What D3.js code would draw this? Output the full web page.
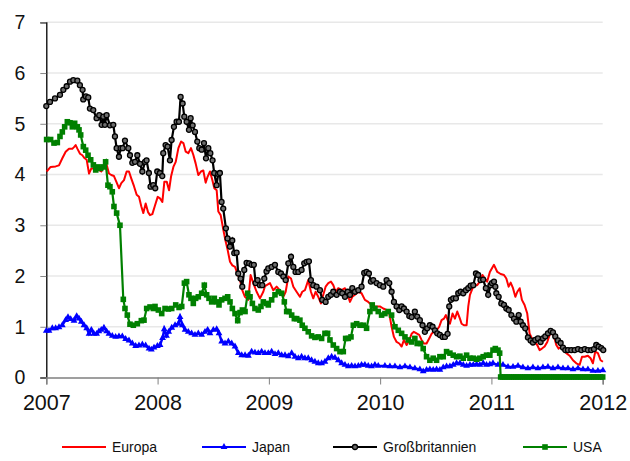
<!DOCTYPE html>
<html><head><meta charset="utf-8">
<script src="https://cdn.jsdelivr.net/npm/d3@7"></script>
<style>body{margin:0;background:#fff}svg{display:block;font-family:"Liberation Sans",Arial,sans-serif}</style>
</head><body><svg id="c" width="630" height="461"></svg>
<script>
// ---- data (t = years since start of 2007) ----
const yearLabels = ["2007","2008","2009","2010","2011","2012"];
const yTicks = [0,1,2,3,4,5,6,7];
const seriesNames = ["Europa","Japan","Großbritannien","USA"];

const euT = [0.003,0.039,0.084,0.114,0.144,0.174,0.204,0.234,0.249,0.264,0.279,0.303,0.324,0.345,0.363,0.384,0.405,0.428,0.452,0.473,0.494,0.518,0.539,0.563,0.584,0.608,0.629,0.653,0.674,0.698,0.722,0.743,0.764,0.788,0.812,0.833,0.854,0.872,0.893,0.914,0.932,0.953,0.974,1.001,1.022,1.043,1.061,1.082,1.103,1.121,1.142,1.163,1.187,1.211,1.232,1.253,1.276,1.300,1.321,1.342,1.366,1.390,1.411,1.432,1.450,1.471,1.492,1.510,1.531,1.546,1.567,1.591,1.612,1.630,1.651,1.672,1.696,1.717,1.741,1.761,1.785,1.815,1.836,1.860,1.890,1.920,1.950,1.965,2.010,2.040,2.070,2.109,2.130,2.151,2.175,2.199,2.220,2.249,2.279,2.300,2.324,2.354,2.378,2.399,2.420,2.444,2.468,2.489,2.510,2.534,2.558,2.579,2.600,2.624,2.654,2.684,2.708,2.729,2.750,2.774,2.804,2.833,2.863,2.893,2.923,2.953,2.998,3.028,3.058,3.082,3.103,3.124,3.148,3.172,3.193,3.214,3.238,3.262,3.283,3.303,3.327,3.351,3.372,3.393,3.417,3.441,3.462,3.483,3.507,3.531,3.552,3.573,3.591,3.612,3.627,3.651,3.672,3.693,3.717,3.732,3.753,3.777,3.792,3.807,3.831,3.852,3.872,3.896,3.920,3.941,3.962,3.986,4.023,4.053,4.083,4.113,4.134,4.155,4.173,4.194,4.215,4.233,4.254,4.274,4.298,4.322,4.343,4.364,4.388,4.412,4.433,4.454,4.478,4.502,4.523,4.544,4.568,4.583,4.604,4.628,4.652,4.673,4.703,4.733,4.763,4.793,4.814,4.838,4.867,4.891,4.912,4.933,4.957,4.981,5.002];
const euV = [4.06,4.15,4.16,4.18,4.32,4.45,4.51,4.51,4.54,4.58,4.51,4.41,4.38,4.32,4.29,4.02,4.12,4.12,4.10,4.09,4.06,4.15,4.22,4.02,3.99,3.97,3.86,3.73,3.83,3.89,4.06,4.06,3.92,3.77,3.60,3.56,3.37,3.24,3.43,3.26,3.20,3.22,3.37,3.56,3.53,3.46,3.86,3.86,3.69,3.96,4.15,4.25,4.52,4.65,4.62,4.45,4.42,4.52,4.39,4.22,3.99,4.06,4.08,3.84,3.96,4.06,3.89,3.73,3.69,3.27,3.20,2.91,2.68,2.51,2.28,2.21,2.18,2.05,1.92,1.72,1.59,1.53,2.02,1.86,1.69,1.56,1.69,1.80,1.86,1.72,1.79,1.69,1.59,1.69,1.99,1.95,1.79,1.69,1.59,1.69,1.72,1.92,1.69,1.56,1.69,1.59,1.46,1.63,1.79,1.86,1.89,1.82,1.69,1.76,1.72,1.76,1.63,1.49,1.59,1.63,1.69,1.66,1.53,1.49,1.43,1.40,1.40,1.36,1.33,1.26,1.00,0.80,0.70,0.67,0.61,0.74,0.64,0.74,0.86,0.90,0.87,0.84,0.74,0.67,0.67,0.77,0.86,0.90,0.93,1.00,1.13,1.16,1.23,1.10,1.06,1.26,1.16,1.30,1.16,1.06,1.03,1.03,1.40,1.63,1.76,1.82,1.82,1.89,2.02,1.95,1.89,2.08,2.22,2.08,2.04,2.02,1.95,1.79,1.87,1.76,1.59,1.69,1.76,1.53,1.43,1.26,0.87,0.77,0.70,0.64,0.54,0.57,0.61,0.70,0.84,0.90,0.77,0.64,0.57,0.61,0.54,0.48,0.43,0.34,0.28,0.25,0.41,0.41,0.43,0.38,0.28,0.51,0.48,0.34,0.31];

const jpT = [0.000,0.024,0.054,0.084,0.114,0.144,0.174,0.195,0.219,0.249,0.273,0.294,0.315,0.339,0.363,0.384,0.405,0.428,0.452,0.473,0.494,0.518,0.542,0.563,0.593,0.623,0.653,0.683,0.713,0.743,0.773,0.803,0.833,0.863,0.893,0.923,0.944,0.968,0.998,1.022,1.045,1.060,1.080,1.100,1.127,1.157,1.187,1.202,1.223,1.247,1.276,1.306,1.336,1.366,1.396,1.426,1.450,1.471,1.501,1.531,1.552,1.576,1.606,1.636,1.666,1.696,1.726,1.756,1.786,1.816,1.845,1.875,1.905,1.935,1.965,1.995,2.025,2.055,2.085,2.115,2.145,2.175,2.205,2.235,2.265,2.294,2.324,2.354,2.384,2.414,2.444,2.474,2.504,2.534,2.564,2.594,2.624,2.654,2.684,2.714,2.744,2.774,2.804,2.833,2.863,2.893,2.923,2.953,2.983,3.043,3.088,3.133,3.178,3.223,3.268,3.312,3.357,3.387,3.417,3.447,3.477,3.507,3.537,3.567,3.597,3.627,3.657,3.687,3.717,3.747,3.777,3.807,3.837,3.867,3.896,3.926,3.956,3.986,4.014,4.059,4.104,4.149,4.194,4.239,4.283,4.328,4.373,4.418,4.463,4.508,4.553,4.598,4.643,4.688,4.733,4.778,4.823,4.867,4.912,4.957,5.002];
const jpV = [0.92,0.92,0.97,0.97,0.99,1.03,1.13,1.19,1.15,1.12,1.21,1.16,1.10,1.03,0.97,0.86,0.94,0.86,0.86,0.91,0.94,0.98,0.91,0.86,0.82,0.80,0.81,0.81,0.76,0.73,0.67,0.62,0.63,0.65,0.63,0.57,0.55,0.59,0.62,0.64,0.78,0.95,0.82,0.90,0.98,1.03,1.06,1.19,1.03,0.94,0.90,0.87,0.84,0.87,0.84,0.90,0.94,0.87,0.94,0.95,0.87,0.71,0.67,0.71,0.67,0.61,0.48,0.44,0.44,0.43,0.51,0.49,0.48,0.51,0.48,0.48,0.51,0.46,0.48,0.44,0.44,0.42,0.48,0.41,0.38,0.41,0.38,0.38,0.34,0.31,0.28,0.28,0.31,0.38,0.41,0.39,0.34,0.28,0.25,0.22,0.23,0.22,0.23,0.25,0.25,0.23,0.22,0.25,0.23,0.23,0.22,0.22,0.20,0.22,0.20,0.18,0.16,0.12,0.15,0.16,0.15,0.16,0.15,0.20,0.22,0.22,0.25,0.28,0.28,0.25,0.23,0.25,0.25,0.26,0.25,0.28,0.25,0.26,0.28,0.25,0.25,0.21,0.21,0.23,0.20,0.18,0.20,0.18,0.20,0.21,0.18,0.20,0.18,0.18,0.16,0.18,0.16,0.16,0.13,0.13,0.14];

const gbT = [0.000,0.033,0.078,0.123,0.153,0.183,0.213,0.243,0.279,0.302,0.326,0.332,0.356,0.377,0.392,0.422,0.452,0.476,0.497,0.512,0.527,0.542,0.572,0.602,0.617,0.632,0.653,0.668,0.686,0.707,0.737,0.752,0.773,0.797,0.818,0.842,0.863,0.887,0.901,0.922,0.937,0.961,0.979,0.997,1.021,1.042,1.051,1.072,1.090,1.111,1.126,1.147,1.171,1.192,1.207,1.225,1.240,1.261,1.282,1.297,1.315,1.336,1.357,1.375,1.396,1.417,1.435,1.456,1.474,1.494,1.509,1.530,1.545,1.560,1.575,1.590,1.614,1.629,1.650,1.671,1.689,1.710,1.725,1.746,1.761,1.779,1.800,1.823,1.845,1.865,1.881,1.899,1.920,1.941,1.959,1.979,1.995,2.025,2.055,2.085,2.109,2.130,2.151,2.175,2.199,2.220,2.240,2.265,2.294,2.318,2.339,2.360,2.378,2.399,2.429,2.459,2.480,2.510,2.534,2.558,2.579,2.609,2.639,2.660,2.684,2.708,2.729,2.750,2.774,2.804,2.833,2.857,2.878,2.899,2.917,2.938,2.968,2.998,3.028,3.058,3.082,3.103,3.124,3.148,3.172,3.193,3.214,3.238,3.262,3.283,3.312,3.333,3.357,3.381,3.402,3.423,3.447,3.471,3.492,3.513,3.537,3.561,3.582,3.606,3.621,3.636,3.657,3.681,3.702,3.723,3.747,3.771,3.792,3.813,3.837,3.861,3.881,3.902,3.926,3.950,3.971,3.992,4.005,4.023,4.035,4.044,4.065,4.089,4.113,4.134,4.155,4.179,4.203,4.224,4.245,4.263,4.283,4.304,4.328,4.352,4.373,4.394,4.418,4.442,4.463,4.484,4.508,4.532,4.553,4.574,4.598,4.622,4.643,4.664,4.688,4.718,4.748,4.778,4.808,4.838,4.867,4.897,4.921,4.942,4.963,4.987,5.005];
const gbV = [5.35,5.43,5.50,5.57,5.67,5.74,5.83,5.86,5.85,5.76,5.67,5.48,5.54,5.52,5.30,5.27,5.11,5.17,4.98,5.14,4.98,5.17,4.97,4.98,4.75,4.52,4.35,4.52,4.52,4.67,4.52,4.38,4.23,4.25,4.38,4.21,4.06,4.25,4.28,4.03,3.76,3.79,3.73,4.06,4.03,3.97,4.42,4.58,4.55,4.28,4.68,4.94,5.04,5.04,5.53,5.40,5.14,5.04,4.88,5.11,4.97,4.84,4.65,4.52,4.49,4.62,4.32,4.52,4.42,4.28,4.03,3.79,4.01,4.03,3.46,3.33,2.94,2.74,2.58,2.70,2.45,2.46,2.05,1.95,1.79,2.12,2.26,2.25,2.22,2.22,1.86,1.92,1.82,1.82,1.95,2.09,2.15,2.18,2.22,2.08,2.05,1.99,1.92,2.25,2.38,2.18,2.08,2.08,2.12,2.25,2.28,2.29,1.92,1.82,1.79,1.72,1.53,1.49,1.59,1.63,1.69,1.63,1.69,1.66,1.59,1.69,1.63,1.76,1.69,1.72,1.79,2.06,2.08,2.05,1.89,1.92,1.86,1.82,1.79,1.92,1.86,1.69,1.49,1.40,1.33,1.40,1.36,1.30,1.21,1.19,1.30,1.20,1.13,1.03,0.90,0.97,1.03,1.00,0.93,0.87,0.84,0.80,0.80,0.86,1.40,1.53,1.56,1.56,1.66,1.69,1.66,1.72,1.76,1.81,1.82,2.05,2.02,1.92,1.93,1.76,1.63,1.82,1.86,1.89,1.79,1.66,1.59,1.46,1.43,1.36,1.33,1.23,1.16,1.10,1.23,1.10,1.03,0.97,0.79,0.73,0.69,0.74,0.77,0.70,0.77,0.81,0.87,0.92,0.89,0.81,0.73,0.68,0.59,0.54,0.54,0.54,0.54,0.56,0.54,0.56,0.54,0.54,0.56,0.64,0.61,0.58,0.54];

const usT = [0.003,0.039,0.069,0.099,0.123,0.144,0.165,0.189,0.213,0.234,0.255,0.279,0.294,0.309,0.333,0.354,0.375,0.399,0.423,0.444,0.465,0.488,0.512,0.533,0.554,0.572,0.593,0.608,0.632,0.662,0.692,0.707,0.728,0.752,0.782,0.818,0.854,0.878,0.902,0.932,0.962,0.977,1.007,1.037,1.067,1.097,1.127,1.163,1.193,1.217,1.241,1.261,1.282,1.300,1.321,1.342,1.366,1.396,1.420,1.441,1.462,1.486,1.510,1.531,1.552,1.576,1.606,1.630,1.651,1.672,1.696,1.720,1.741,1.762,1.786,1.810,1.831,1.852,1.875,1.905,1.929,1.950,1.980,1.995,2.025,2.055,2.085,2.115,2.139,2.160,2.181,2.205,2.229,2.250,2.279,2.300,2.324,2.354,2.384,2.414,2.444,2.474,2.504,2.528,2.549,2.579,2.609,2.639,2.669,2.690,2.714,2.738,2.759,2.789,2.819,2.848,2.878,2.908,2.929,2.953,2.983,3.013,3.043,3.073,3.103,3.133,3.163,3.193,3.223,3.253,3.283,3.312,3.333,3.363,3.387,3.417,3.447,3.477,3.507,3.537,3.567,3.597,3.627,3.657,3.687,3.717,3.747,3.777,3.807,3.837,3.867,3.896,3.926,3.956,3.986,4.014,4.035,4.059,4.074,4.083,4.10,4.12,4.14,4.16,4.18,4.20,4.22,4.24,4.26,4.28,4.30,4.32,4.34,4.36,4.38,4.40,4.42,4.44,4.46,4.48,4.50,4.52,4.54,4.56,4.58,4.60,4.62,4.64,4.66,4.68,4.70,4.72,4.74,4.76,4.78,4.80,4.82,4.84,4.86,4.88,4.90,4.92,4.94,4.96,4.98,5.00];
const usV = [4.69,4.69,4.62,4.63,4.75,4.84,4.94,5.04,5.02,4.94,5.01,4.94,4.88,4.78,4.55,4.48,4.38,4.29,4.19,4.09,4.15,4.12,4.15,4.25,3.79,3.76,3.66,3.37,3.24,3.00,1.54,1.36,1.23,1.05,1.03,1.06,1.12,1.13,1.36,1.39,1.36,1.40,1.33,1.26,1.36,1.35,1.36,1.43,1.38,1.40,1.86,1.89,1.63,1.56,1.46,1.56,1.59,1.66,1.82,1.63,1.56,1.49,1.56,1.49,1.43,1.53,1.56,1.59,1.49,1.36,1.26,1.12,1.28,1.33,1.30,1.66,1.59,1.46,1.36,1.33,1.40,1.49,1.46,1.43,1.53,1.63,1.69,1.66,1.49,1.30,1.30,1.23,1.16,1.16,1.13,1.03,0.97,0.90,0.82,0.79,0.80,0.77,0.87,0.87,0.74,0.64,0.57,0.51,0.51,0.77,0.77,0.80,1.03,1.06,1.03,1.03,0.97,1.30,1.43,1.36,1.30,1.23,1.26,1.30,1.23,1.00,0.93,0.87,0.80,0.74,0.70,0.77,0.67,0.67,0.57,0.41,0.34,0.38,0.34,0.41,0.41,0.51,0.48,0.44,0.41,0.42,0.38,0.44,0.38,0.38,0.36,0.38,0.41,0.44,0.44,0.54,0.57,0.54,0.48,0.01,0.01,0.01,0.01,0.01,0.01,0.01,0.01,0.01,0.01,0.01,0.01,0.01,0.01,0.01,0.01,0.01,0.01,0.01,0.01,0.01,0.01,0.01,0.01,0.01,0.01,0.01,0.01,0.01,0.01,0.01,0.01,0.01,0.01,0.01,0.01,0.01,0.01,0.01,0.01,0.01,0.01,0.01,0.01,0.01,0.01,0.01];

// ---- chart ----
const svg = d3.select("#c");
const x = d3.scaleLinear().domain([0, 5]).range([46.3, 602.7]);
const y = d3.scaleLinear().domain([0, 7]).range([377.5, 22.3]);
const textCol = "#111";

// gridlines
svg.append("g").selectAll("line").data(yTicks.filter(d => d > 0)).join("line")
  .attr("x1", x(0)).attr("x2", x(5))
  .attr("y1", d => y(d)).attr("y2", d => y(d))
  .attr("stroke", "#e8e8e8").attr("stroke-width", 1.4);

// y axis
const yAxis = svg.append("g").attr("transform", `translate(${x(0)},0)`)
  .call(d3.axisLeft(y).tickValues(yTicks).tickFormat(d3.format("d")).tickSize(6).tickPadding(15));
yAxis.select(".domain").attr("stroke", "#000").attr("stroke-width", 1.3);
yAxis.selectAll(".tick line").attr("stroke", "#888");
yAxis.selectAll("text").attr("font-size", 19.5).attr("fill", textCol)
  .attr("font-family", '"Liberation Sans",Arial,sans-serif');

// x axis
const xAxis = svg.append("g").attr("transform", `translate(0,${y(0)})`)
  .call(d3.axisBottom(x).tickValues(d3.range(yearLabels.length)).tickFormat(i => yearLabels[i]).tickSize(7).tickPadding(10));
xAxis.select(".domain").attr("stroke", "#808080").attr("stroke-width", 1.5);
xAxis.selectAll(".tick line").attr("stroke", "#808080");
xAxis.selectAll("text").attr("font-size", 21.5).attr("fill", textCol)
  .attr("font-family", '"Liberation Sans",Arial,sans-serif');

const line = d3.line().x(d => x(d[0])).y(d => y(d[1]));
const zipS = (t, v) => t.map((tt, i) => [tt, v[i]]);
const eu = zipS(euT, euV), jp = zipS(jpT, jpV), gb = zipS(gbT, gbV), us = zipS(usT, usV);

const colors = ["#ff0000", "#0000ff", "#000000", "#008000"];
const tri = d3.symbol().type(d3.symbolTriangle).size(20);
const circFill = "#6e6e6e";

function drawMarker(g, kind, cx, cy) {
  if (kind === 1) {
    g.append("path").attr("d", tri()).attr("transform", `translate(${cx},${cy})`).attr("fill", colors[1]);
  } else if (kind === 2) {
    g.append("circle").attr("cx", cx).attr("cy", cy).attr("r", 2.5)
      .attr("fill", circFill).attr("stroke", "#000").attr("stroke-width", 1.3);
  } else if (kind === 3) {
    g.append("rect").attr("x", cx - 2.8).attr("y", cy - 2.8).attr("width", 5.6).attr("height", 5.6).attr("fill", colors[3]);
  }
}

// Europa
svg.append("path").datum(eu).attr("d", line).attr("fill", "none").attr("stroke", colors[0]).attr("stroke-width", 2).attr("stroke-linejoin", "round");
// Japan
const gJ = svg.append("g");
gJ.append("path").datum(jp).attr("d", line).attr("fill", "none").attr("stroke", colors[1]).attr("stroke-width", 2.4);
gJ.selectAll("path.m").data(jp).join("path").attr("class", "m").attr("d", tri())
  .attr("transform", d => `translate(${x(d[0])},${y(d[1])})`).attr("fill", colors[1]);
// GB
const gG = svg.append("g");
gG.append("path").datum(gb).attr("d", line).attr("fill", "none").attr("stroke", colors[2]).attr("stroke-width", 2.2);
gG.selectAll("circle").data(gb).join("circle").attr("cx", d => x(d[0])).attr("cy", d => y(d[1])).attr("r", 2.5)
  .attr("fill", circFill).attr("stroke", "#000").attr("stroke-width", 1.3);
// USA
const gU = svg.append("g");
gU.append("path").datum(us).attr("d", line).attr("fill", "none").attr("stroke", colors[3]).attr("stroke-width", 2.2);
gU.selectAll("rect").data(us).join("rect").attr("x", d => x(d[0]) - 2.8).attr("y", d => y(d[1]) - 2.8)
  .attr("width", 5.6).attr("height", 5.6).attr("fill", colors[3]);

// legend
const legX = [62, 202, 333, 523];
const leg = svg.append("g");
seriesNames.forEach((name, i) => {
  const g = leg.append("g");
  g.append("line").attr("x1", legX[i]).attr("x2", legX[i] + 44).attr("y1", 447).attr("y2", 447)
    .attr("stroke", colors[i]).attr("stroke-width", 2);
  drawMarker(g, i, legX[i] + 22, 447);
  g.append("text").attr("x", legX[i] + 50).attr("y", 452).attr("font-size", 14).attr("fill", textCol).text(name);
});
</script></body></html>
